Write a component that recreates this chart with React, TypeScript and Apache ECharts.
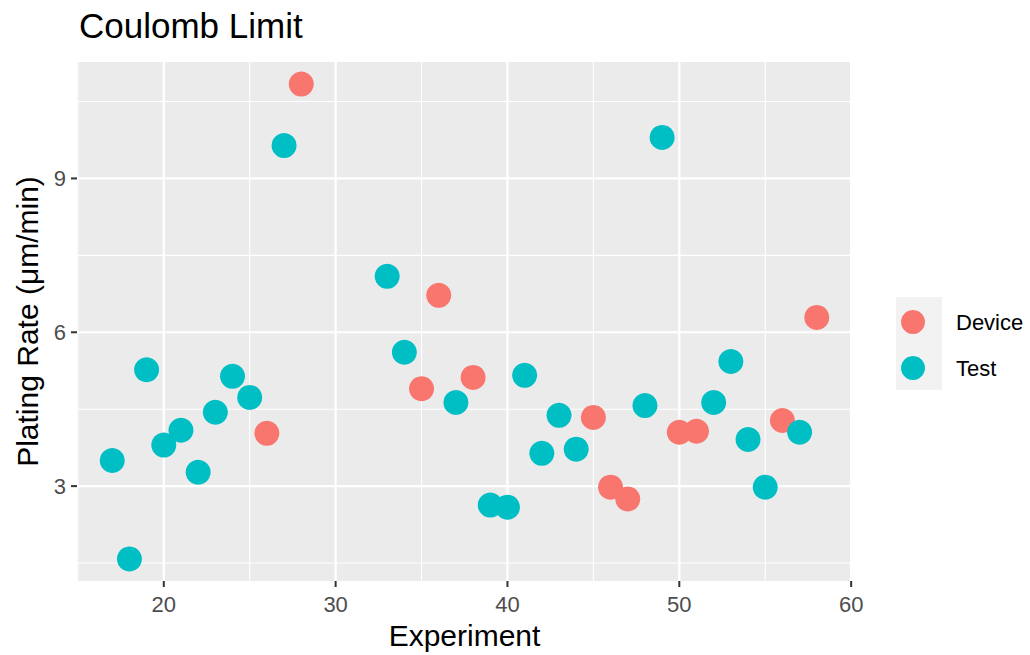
import React, { useEffect, useRef } from "react";
import * as echarts from "echarts";

const FONT = "'Liberation Sans', Arial, sans-serif";

const deviceX = [26, 28, 35, 36, 38, 45, 46, 47, 50, 51, 56, 58];
const deviceY = [4.03, 10.84, 4.9, 6.72, 5.12, 4.34, 2.98, 2.75, 4.05, 4.07, 4.28, 6.29];

const testX = [17, 18, 19, 20, 21, 22, 23, 24, 25, 27, 33, 34, 37, 39, 40, 41, 42, 43, 44, 48, 49, 52, 53, 54, 55, 57];
const testY = [3.5, 1.58, 5.27, 3.8, 4.09, 3.27, 4.44, 5.14, 4.73, 9.64, 7.09, 5.61, 4.63, 2.63, 2.59, 5.16, 3.64, 4.38, 3.72, 4.57, 9.8, 4.63, 5.43, 3.91, 2.98, 4.05];

const xTicks = [20, 30, 40, 50, 60];
const xMinor = [15, 25, 35, 45, 55];
const yTicks = [3, 6, 9];
const yMinor = [1.5, 4.5, 7.5, 10.5];

const xMin = 14.95;
const xMax = 60.05;
const yMin = 1.15;
const yMax = 11.27;

function gridSeries(values: number[], vertical: boolean, width: number) {
  return {
    type: "custom",
    silent: true,
    clip: true,
    z: 1,
    data: values.map((v) => (vertical ? [v, yMin] : [xMin, v])),
    encode: { x: 0, y: 1 },
    renderItem: (params: any, api: any) => {
      const v = api.value(vertical ? 0 : 1);
      const a = vertical ? api.coord([v, yMin]) : api.coord([xMin, v]);
      const b = vertical ? api.coord([v, yMax]) : api.coord([xMax, v]);
      return {
        type: "line",
        shape: { x1: a[0], y1: a[1], x2: b[0], y2: b[1] },
        style: { stroke: "#FFFFFF", lineWidth: width },
      };
    },
  };
}

function tickSeries(values: number[], vertical: boolean) {
  return {
    type: "custom",
    silent: true,
    clip: false,
    z: 1,
    data: values.map((v) => (vertical ? [v, yMin] : [xMin, v])),
    encode: { x: 0, y: 1 },
    renderItem: (params: any, api: any) => {
      const p = api.coord([api.value(0), api.value(1)]);
      return vertical
        ? {
            type: "line",
            shape: { x1: p[0], y1: p[1], x2: p[0], y2: p[1] + 6 },
            style: { stroke: "#333333", lineWidth: 2 },
          }
        : {
            type: "line",
            shape: { x1: p[0] - 6, y1: p[1], x2: p[0], y2: p[1] },
            style: { stroke: "#333333", lineWidth: 2 },
          };
    },
  };
}

export default function App() {
  const ref = useRef<HTMLDivElement>(null);

  useEffect(() => {
    if (!ref.current) return;
    const chart = echarts.init(ref.current, undefined, { renderer: "svg" });
    chart.setOption({
      animation: false,
      backgroundColor: "#FFFFFF",
      title: {
        text: "Coulomb Limit",
        left: 74,
        top: 3,
        textStyle: { fontSize: 35, fontWeight: "normal", color: "#000000", fontFamily: FONT },
      },
      grid: {
        left: 77,
        top: 62,
        width: 775,
        height: 521,
        show: true,
        backgroundColor: "#EBEBEB",
        borderWidth: 0,
        containLabel: false,
      },
      legend: {
        orient: "vertical",
        left: 896,
        top: 305,
        itemWidth: 46,
        itemHeight: 24,
        itemGap: 22,
        icon: "circle",
        selectedMode: false,
        data: ["Device", "Test"],
        textStyle: { fontSize: 22, color: "#000000", fontFamily: FONT, padding: [0, 0, 0, 15] },
      },
      graphic: [
        {
          type: "rect",
          left: 896,
          top: 297,
          z: -1,
          shape: { width: 46, height: 93 },
          style: { fill: "#F2F2F2" },
        },
      ],
      xAxis: {
        type: "value",
        min: xMin,
        max: xMax,
        minInterval: 10,
        maxInterval: 10,
        axisLine: { show: false },
        axisTick: { show: false },
        splitLine: { show: false },
        axisLabel: {
          formatter: (v: number) => (xTicks.includes(Math.round(v * 1000) / 1000) ? String(Math.round(v)) : ""),
          color: "#4D4D4D",
          fontSize: 22,
          margin: 12,
          fontFamily: FONT,
        },
        name: "Experiment",
        nameLocation: "middle",
        nameGap: 39,
        nameTextStyle: { fontSize: 30, color: "#000000", fontFamily: FONT },
      },
      yAxis: {
        type: "value",
        min: yMin,
        max: yMax,
        minInterval: 3,
        maxInterval: 3,
        axisLine: { show: false },
        axisTick: { show: false },
        splitLine: { show: false },
        axisLabel: {
          formatter: (v: number) => (yTicks.includes(Math.round(v * 1000) / 1000) ? String(Math.round(v)) : ""),
          color: "#4D4D4D",
          fontSize: 22,
          margin: 11,
          fontFamily: FONT,
        },
        name: "Plating Rate (μm/min)",
        nameLocation: "middle",
        nameGap: 32,
        nameTextStyle: { fontSize: 30, color: "#000000", fontFamily: FONT },
      },
      series: [
        gridSeries(xMinor, true, 1.1),
        gridSeries(yMinor, false, 1.1),
        gridSeries(xTicks, true, 2.2),
        gridSeries(yTicks, false, 2.2),
        tickSeries(xTicks, true),
        tickSeries(yTicks, false),
        {
          name: "Device",
          type: "scatter",
          z: 3,
          symbol: "circle",
          symbolSize: 25,
          itemStyle: { color: "#F8766D", opacity: 1 },
          emphasis: { disabled: true },
          data: deviceX.map((x, i) => [x, deviceY[i]]),
        },
        {
          name: "Test",
          type: "scatter",
          z: 3,
          symbol: "circle",
          symbolSize: 25,
          itemStyle: { color: "#00BFC4", opacity: 1 },
          emphasis: { disabled: true },
          data: testX.map((x, i) => [x, testY[i]]),
        },
      ],
    });
    return () => chart.dispose();
  }, []);

  return (
    <div
      ref={ref}
      style={{ position: "fixed", left: 0, top: 0, width: 1030, height: 655 }}
    />
  );
}
